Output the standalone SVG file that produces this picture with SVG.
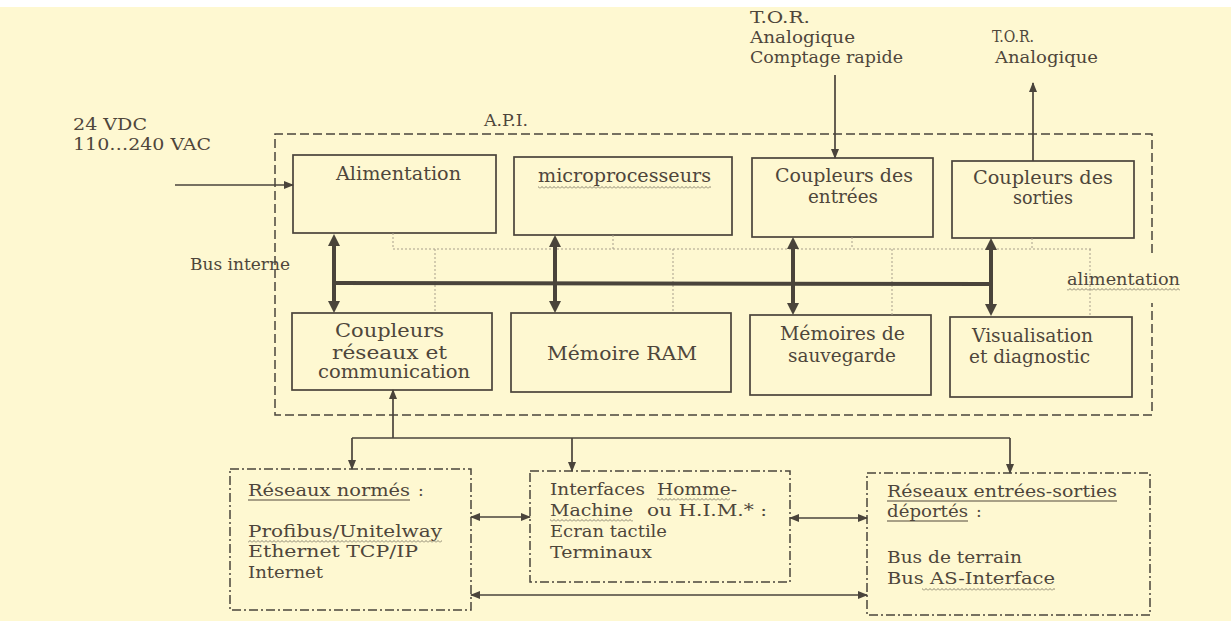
<svg xmlns="http://www.w3.org/2000/svg" width="1231" height="621" viewBox="0 0 1231 621">
  <style>
    text { font-family: "DejaVu Serif", "Liberation Serif", serif; fill: #4e463b; }
    .bx { font-size: 18px; }
    .lb { font-size: 16px; }
    .sm { font-size: 17px; }
    .box { fill: none; stroke: #4a443b; stroke-width: 1.7; }
    .outer { fill: none; stroke: #4a443b; stroke-width: 1.5; stroke-dasharray: 9 4; }
    .dd { fill: none; stroke: #4a443b; stroke-width: 1.5; stroke-dasharray: 9 3 2 3; }
    .wire { fill: none; stroke: #4a443b; stroke-width: 1.7; }
    .bus { fill: none; stroke: #4a443b; stroke-width: 4; }
    .dot { fill: none; stroke: #a89f8c; stroke-width: 1; stroke-dasharray: 2 2; }
    .ul { stroke: #52493d; stroke-width: 1.2; }
  </style>
  <defs>
    <marker id="ah" viewBox="0 0 10 8" refX="9" refY="4" markerWidth="10" markerHeight="8" markerUnits="userSpaceOnUse" orient="auto-start-reverse">
      <path d="M0,0 L10,4 L0,8 z" fill="#4a443b"/>
    </marker>
    <marker id="ahb" viewBox="0 0 12 12" refX="3" refY="6" markerWidth="12" markerHeight="12" markerUnits="userSpaceOnUse" orient="auto-start-reverse">
      <path d="M0,0 L12,6 L0,12 z" fill="#4a443b"/>
    </marker>
    <!-- wavy spell-check style underline -->
    <pattern id="wave" patternUnits="userSpaceOnUse" width="4" height="3">
      <polyline points="0,2.5 2,0.5 4,2.5" fill="none" stroke="#7f7763" stroke-width="0.9"/>
    </pattern>
  </defs>

  <!-- paper -->
  <rect x="0" y="0" width="1231" height="621" fill="#fef8d1"/>
  <rect x="0" y="0" width="1231" height="7" fill="#ffffff"/>

  <!-- free labels -->
  <g id="supply-label">
    <text class="lb" x="73" y="130" textLength="74" lengthAdjust="spacingAndGlyphs">24 VDC</text>
    <text class="lb" x="73" y="150" textLength="138" lengthAdjust="spacingAndGlyphs">110…240 VAC</text>
  </g>
  <g id="api-label">
    <text class="lb" x="484" y="126" textLength="44" lengthAdjust="spacingAndGlyphs">A.P.I.</text>
  </g>
  <g id="inputs-label">
    <text class="lb" x="750" y="23" textLength="60" lengthAdjust="spacingAndGlyphs">T.O.R.</text>
    <text class="lb" x="750" y="43" textLength="105" lengthAdjust="spacingAndGlyphs">Analogique</text>
    <text class="lb" x="750" y="63" textLength="153" lengthAdjust="spacingAndGlyphs">Comptage rapide</text>
  </g>
  <g id="outputs-label">
    <text class="lb" x="992" y="42" textLength="42" lengthAdjust="spacingAndGlyphs">T.O.R.</text>
    <text class="lb" x="995" y="63" textLength="103" lengthAdjust="spacingAndGlyphs">Analogique</text>
  </g>
  <g id="bus-label">
    <text class="lb" x="190" y="270" textLength="100" lengthAdjust="spacingAndGlyphs">Bus interne</text>
  </g>
  <g id="supply-rail-label">
    <text class="lb" x="1067" y="285" textLength="113" lengthAdjust="spacingAndGlyphs">alimentation</text>
    <rect x="1067" y="288" width="113" height="3" fill="url(#wave)"/>
  </g>

  <!-- API enclosure -->
  <g id="api">
    <path class="outer" d="M1152,253 L1152,134 L275,134 L275,415 L1152,415 L1152,303"/>
  </g>

  <!-- internal modules -->
  <g id="alimentation">
    <rect class="box" x="293" y="155" width="203" height="78"/>
    <text class="bx" x="336" y="180" textLength="125" lengthAdjust="spacingAndGlyphs">Alimentation</text>
  </g>
  <g id="microprocesseurs">
    <rect class="box" x="514" y="157" width="218" height="78"/>
    <text class="bx" x="538" y="182" textLength="173" lengthAdjust="spacingAndGlyphs">microprocesseurs</text>
    <rect x="538" y="186" width="173" height="3" fill="url(#wave)"/>
  </g>
  <g id="coupleurs-entrees">
    <rect class="box" x="752" y="158" width="181" height="79"/>
    <text class="bx" x="775" y="182" textLength="138" lengthAdjust="spacingAndGlyphs">Coupleurs des</text>
    <text class="bx" x="808" y="203" textLength="70" lengthAdjust="spacingAndGlyphs">entrées</text>
  </g>
  <g id="coupleurs-sorties">
    <rect class="box" x="952" y="161" width="182" height="77"/>
    <text class="bx" x="973" y="184" textLength="140" lengthAdjust="spacingAndGlyphs">Coupleurs des</text>
    <text class="bx" x="1013" y="204" textLength="60" lengthAdjust="spacingAndGlyphs">sorties</text>
  </g>
  <g id="coupleurs-reseaux">
    <rect class="box" x="292" y="313" width="200" height="77"/>
    <text class="bx" x="335" y="337" textLength="109" lengthAdjust="spacingAndGlyphs">Coupleurs</text>
    <text class="bx" x="332" y="359" textLength="115" lengthAdjust="spacingAndGlyphs">réseaux et</text>
    <text class="bx" x="318" y="378" textLength="152" lengthAdjust="spacingAndGlyphs">communication</text>
  </g>
  <g id="memoire-ram">
    <rect class="box" x="511" y="313" width="220" height="79"/>
    <text class="bx" x="547" y="360" textLength="150" lengthAdjust="spacingAndGlyphs">Mémoire RAM</text>
  </g>
  <g id="memoires-sauvegarde">
    <rect class="box" x="750" y="315" width="181" height="80"/>
    <text class="bx" x="780" y="340" textLength="125" lengthAdjust="spacingAndGlyphs">Mémoires de</text>
    <text class="bx" x="788" y="362" textLength="108" lengthAdjust="spacingAndGlyphs">sauvegarde</text>
  </g>
  <g id="visualisation">
    <rect class="box" x="950" y="317" width="182" height="80"/>
    <text class="bx" x="972" y="342" textLength="121" lengthAdjust="spacingAndGlyphs">Visualisation</text>
    <text class="bx" x="969" y="363" textLength="121" lengthAdjust="spacingAndGlyphs">et diagnostic</text>
  </g>

  <!-- external networks -->
  <g id="reseaux-normes">
    <rect class="dd" x="230" y="469" width="241" height="141"/>
    <text class="sm" x="248" y="496" textLength="162" lengthAdjust="spacingAndGlyphs">Réseaux normés</text>
    <line class="ul" x1="248" y1="500" x2="410" y2="500"/>
    <text class="sm" x="418" y="496">:</text>
    <text class="sm" x="248" y="537" textLength="194" lengthAdjust="spacingAndGlyphs">Profibus/Unitelway</text>
    <rect x="248" y="540" width="194" height="3" fill="url(#wave)"/>
    <text class="sm" x="248" y="557" textLength="170" lengthAdjust="spacingAndGlyphs">Ethernet TCP/IP</text>
    <text class="sm" x="248" y="578" textLength="75" lengthAdjust="spacingAndGlyphs">Internet</text>
  </g>
  <g id="ihm">
    <rect class="dd" x="530" y="471" width="260" height="111"/>
    <text class="sm" x="550" y="495" textLength="95" lengthAdjust="spacingAndGlyphs">Interfaces</text>
    <text class="sm" x="657" y="495" textLength="80" lengthAdjust="spacingAndGlyphs">Homme-</text>
    <rect x="657" y="498" width="73" height="3" fill="url(#wave)"/>
    <text class="sm" x="550" y="516" textLength="83" lengthAdjust="spacingAndGlyphs">Machine</text>
    <rect x="550" y="519" width="83" height="3" fill="url(#wave)"/>
    <text class="sm" x="647" y="516" textLength="120" lengthAdjust="spacingAndGlyphs">ou H.I.M.* :</text>
    <text class="sm" x="550" y="537" textLength="117" lengthAdjust="spacingAndGlyphs">Ecran tactile</text>
    <text class="sm" x="550" y="558" textLength="102" lengthAdjust="spacingAndGlyphs">Terminaux</text>
  </g>
  <g id="reseaux-es">
    <rect class="dd" x="867" y="473" width="283" height="142"/>
    <text class="sm" x="887" y="497" textLength="230" lengthAdjust="spacingAndGlyphs">Réseaux entrées-sorties</text>
    <line class="ul" x1="887" y1="501" x2="1117" y2="501"/>
    <text class="sm" x="887" y="517" textLength="81" lengthAdjust="spacingAndGlyphs">déportés</text>
    <line class="ul" x1="887" y1="521" x2="968" y2="521"/>
    <text class="sm" x="976" y="517">:</text>
    <text class="sm" x="887" y="563" textLength="135" lengthAdjust="spacingAndGlyphs">Bus de terrain</text>
    <text class="sm" x="887" y="584" textLength="168" lengthAdjust="spacingAndGlyphs">Bus AS-Interface</text>
    <rect x="922" y="588" width="133" height="3" fill="url(#wave)"/>
  </g>

  <!-- connectors -->
  <g id="connectors">
    <!-- power supply rail (dotted) -->
    <polyline class="dot" points="393,233 393,249 1092,249"/>
    <line class="dot" x1="613" y1="235" x2="613" y2="249"/>
    <line class="dot" x1="852" y1="237" x2="852" y2="249"/>
    <line class="dot" x1="1032" y1="238" x2="1032" y2="249"/>
    <line class="dot" x1="435" y1="249" x2="435" y2="313"/>
    <line class="dot" x1="673" y1="249" x2="673" y2="313"/>
    <line class="dot" x1="892" y1="249" x2="892" y2="315"/>
    <line class="dot" x1="1090" y1="249" x2="1090" y2="317"/>

    <!-- internal bus -->
    <line class="bus" x1="334" y1="283" x2="991" y2="284"/>
    <line class="bus" x1="334" y1="243" x2="334" y2="304" marker-start="url(#ahb)" marker-end="url(#ahb)"/>
    <line class="bus" x1="555" y1="244" x2="555" y2="304" marker-start="url(#ahb)" marker-end="url(#ahb)"/>
    <line class="bus" x1="793" y1="246" x2="793" y2="306" marker-start="url(#ahb)" marker-end="url(#ahb)"/>
    <line class="bus" x1="991" y1="247" x2="991" y2="307" marker-start="url(#ahb)" marker-end="url(#ahb)"/>

    <!-- I/O and supply -->
    <line class="wire" x1="175" y1="185" x2="293" y2="185" marker-end="url(#ah)"/>
    <line class="wire" x1="835" y1="75" x2="835" y2="158" marker-end="url(#ah)"/>
    <line class="wire" x1="1033" y1="161" x2="1033" y2="83" marker-end="url(#ah)"/>

    <!-- networks -->
    <line class="wire" x1="393" y1="438" x2="393" y2="390" marker-end="url(#ah)"/>
    <line class="wire" x1="352" y1="438" x2="1010" y2="438"/>
    <line class="wire" x1="352" y1="438" x2="352" y2="469" marker-end="url(#ah)"/>
    <line class="wire" x1="572" y1="438" x2="572" y2="471" marker-end="url(#ah)"/>
    <line class="wire" x1="1010" y1="438" x2="1010" y2="473" marker-end="url(#ah)"/>
    <line class="wire" x1="471" y1="517" x2="530" y2="517" marker-start="url(#ah)" marker-end="url(#ah)"/>
    <line class="wire" x1="790" y1="518" x2="867" y2="518" marker-start="url(#ah)" marker-end="url(#ah)"/>
    <line class="wire" x1="471" y1="595" x2="867" y2="595" marker-start="url(#ah)" marker-end="url(#ah)"/>
  </g>
</svg>
